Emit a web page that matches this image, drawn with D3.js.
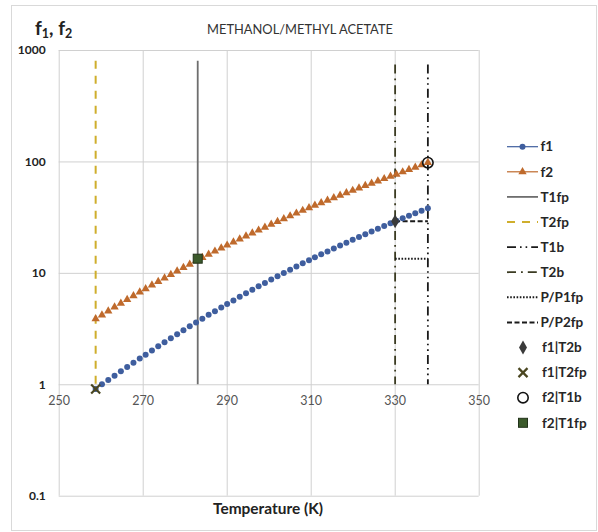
<!DOCTYPE html>
<html><head><meta charset="utf-8">
<script src="https://cdn.jsdelivr.net/npm/d3@7"></script>
<style>body{margin:0;background:#fff}svg{display:block;font-family:Lato,"Open Sans",sans-serif}</style>
</head><body><svg id="c" width="598" height="532"></svg>
<script>
// ---------------- data ----------------
const temperature = [258.8,260.3,261.8,263.3,264.8,266.3,267.8,269.3,270.7,272.2,273.7,275.2,276.7,278.2,279.7,281.2,282.7,284.2,285.7,287.2,288.7,290.1,291.6,293.1,294.6,296.1,297.6,299.1,300.6,302.1,303.6,305.1,306.6,308.1,309.6,311.0,312.5,314.0,315.5,317.0,318.5,320.0,321.5,323.0,324.5,326.0,327.5,329.0,330.4,331.9,333.4,334.9,336.4,337.9];
const f1 = [0.907,1.00,1.09,1.19,1.31,1.43,1.56,1.70,1.84,2.01,2.19,2.38,2.59,2.81,3.05,3.31,3.59,3.88,4.20,4.53,4.89,5.25,5.66,6.10,6.56,7.05,7.57,8.12,8.70,9.31,9.97,10.66,11.40,12.17,12.99,13.77,14.65,15.58,16.55,17.57,18.65,19.78,20.97,22.23,23.55,24.93,26.38,27.90,29.39,30.97,32.62,34.34,36.13,38.0];
const f2 = [3.86,4.18,4.54,4.92,5.32,5.75,6.22,6.71,7.20,7.76,8.36,8.99,9.67,10.38,11.14,11.95,12.81,13.72,14.65,15.64,16.68,17.71,18.86,20.08,21.36,22.71,24.14,25.63,27.20,28.85,30.58,32.40,34.30,36.30,38.40,40.34,42.52,44.80,47.17,49.64,52.22,54.90,57.69,60.59,63.61,66.74,70.00,73.38,76.64,80.47,84.47,88.63,92.96,97.5];
const xTicks = [250,270,290,310,330,350];
const yTicks = [0.1,1,10,100,1000];
// vertical reference lines
const vNames = ["T1fp","T2fp","T1b","T2b"];
const vTemps = [283.1,258.8,337.9,330.1];
const vFrom  = [1,0.907,1,1];
const vTo    = [800,800,740,740];
// horizontal pressure-ratio lines
const hNames = ["P/P1fp","P/P2fp"];
const hValues = [13.4,29];
const hFromT = [330.1,330.1];
const hToT   = [337.9,337.9];
// single points
const pNames = ["f1|T2b","f1|T2fp","f2|T1b","f2|T1fp"];
const pTemps = [330.1,258.8,337.9,283.1];
const pValues = [29,0.907,97.5,13.4];
const legendLabels = ["f1","f2","T1fp","T2fp","T1b","T2b","P/P1fp","P/P2fp","f1|T2b","f1|T2fp","f2|T1b","f2|T1fp"];
const titleText = "METHANOL/METHYL ACETATE";
const xTitle = "Temperature (K)";

// ---------------- styles ----------------
const lineStyle = {
  "T1fp":  {stroke:"#6e6e6e", width:1.8, dash:null},
  "T2fp":  {stroke:"#cfae2c", width:2,   dash:"8,7"},
  "T1b":   {stroke:"#1a1a1a", width:1.8, dash:"9,4,1.6,4,1.6,4"},
  "T2b":   {stroke:"#3b3b22", width:1.8, dash:"9,5,1.8,5"},
  "P/P1fp":{stroke:"#1a1a1a", width:2,   dash:"1.6,1.6"},
  "P/P2fp":{stroke:"#1a1a1a", width:2,   dash:"5,2.5"}
};
const c1 = "#3f5e9e", c2 = "#bf6a2c";

const svg = d3.select("#c");
svg.append("rect").attr("x",11.5).attr("y",5.5).attr("width",585).attr("height",525)
  .attr("fill","#fff").attr("stroke","#d9d9d9");

const x = d3.scaleLinear().domain([250,350]).range([58.7,478.7]);
const y = d3.scaleLog().domain([0.1,1000]).range([495.7,50]);

// grid
svg.append("g").attr("transform",`translate(0,${y(0.1)})`)
  .call(d3.axisBottom(x).tickValues(xTicks).tickSize(-(y(0.1)-y(1000))).tickFormat(""))
  .call(g=>g.select(".domain").remove())
  .call(g=>g.selectAll("line").attr("stroke","#d0d0d0").attr("stroke-width",1));
svg.append("g").attr("transform",`translate(${x(250)},0)`)
  .call(d3.axisLeft(y).tickValues(yTicks).tickSize(-(x(350)-x(250))).tickFormat(""))
  .call(g=>g.select(".domain").remove())
  .call(g=>g.selectAll("line").attr("stroke","#d0d0d0").attr("stroke-width",1));

// tick labels
svg.append("g").attr("transform",`translate(0,${y(1)})`)
  .call(d3.axisBottom(x).tickValues(xTicks).tickSize(0).tickPadding(12))
  .call(g=>g.select(".domain").remove())
  .call(g=>g.selectAll("text").attr("font-family","Lato").attr("font-size",12.5).attr("fill","#555"));
svg.append("g").attr("transform",`translate(${x(250)},0)`)
  .call(d3.axisLeft(y).tickValues(yTicks).tickSize(0).tickPadding(13).tickFormat(d=>String(d)))
  .call(g=>g.select(".domain").remove())
  .call(g=>g.selectAll("text").attr("font-family","Lato").attr("font-size",12).attr("font-weight","bold").attr("fill","#222"));

function fitWidth(sel,w){
  const len = sel.node().getComputedTextLength();
  const fs = parseFloat(sel.attr("font-size"));
  sel.attr("font-size",(fs*w/len).toFixed(2));
}
// titles
const tt = svg.append("text").attr("x",300).attr("y",33.5).attr("text-anchor","middle")
  .attr("font-size",13).attr("fill","#333").text(titleText);
fitWidth(tt,186);
const xt = svg.append("text").attr("x",268).attr("y",514).attr("text-anchor","middle")
  .attr("font-size",15).attr("font-weight","bold").attr("fill","#222").text(xTitle);
fitWidth(xt,110);
const yl = svg.append("text").attr("x",35).attr("y",35).attr("font-size",19).attr("font-weight","bold").attr("fill","#222");
yl.append("tspan").text("f");
yl.append("tspan").attr("font-size",12.5).attr("dy",3).text("1");
yl.append("tspan").attr("dy",-3).text(", f");
yl.append("tspan").attr("font-size",12.5).attr("dy",3).text("2");

// vertical lines
vNames.forEach((n,i)=>{
  const s = lineStyle[n];
  svg.append("path")
    .attr("d", d3.line()([[x(vTemps[i]),y(vTo[i])],[x(vTemps[i]),y(vFrom[i])]]))
    .attr("stroke",s.stroke).attr("stroke-width",s.width).attr("stroke-dasharray",s.dash).attr("fill","none");
});
// horizontal ratio lines
hNames.forEach((n,i)=>{
  const s = lineStyle[n];
  svg.append("path")
    .attr("d", d3.line()([[x(hFromT[i]),y(hValues[i])],[x(hToT[i]),y(hValues[i])]]))
    .attr("stroke",s.stroke).attr("stroke-width",s.width).attr("stroke-dasharray",s.dash).attr("fill","none");
});

// series (markers only in the plot)
const s1 = temperature.map((t,i)=>[t,f1[i]]);
const s2 = temperature.map((t,i)=>[t,f2[i]]);
const tri = d3.symbol().type(d3.symbolTriangle).size(30);
svg.append("g").selectAll("path").data(s2).join("path")
  .attr("transform",d=>`translate(${x(d[0])},${y(d[1])})`).attr("d",tri()).attr("fill",c2);
svg.append("g").selectAll("circle").data(s1).join("circle")
  .attr("cx",d=>x(d[0])).attr("cy",d=>y(d[1])).attr("r",3).attr("fill",c1);

// point markers
function drawMarker(g,name){
  if(name==="f1|T2b") g.append("path").attr("d",d3.symbol().type(d3.symbolDiamond).size(55)()).attr("fill","#3a3a3a");
  else if(name==="f1|T2fp") g.append("path").attr("d","M-4.5,-4.5L4.5,4.5M4.5,-4.5L-4.5,4.5").attr("stroke","#4a4620").attr("stroke-width",2.2).attr("fill","none");
  else if(name==="f2|T1b") g.append("circle").attr("r",5.2).attr("fill","none").attr("stroke","#111").attr("stroke-width",1.6);
  else if(name==="f2|T1fp") g.append("rect").attr("x",-4.5).attr("y",-4.5).attr("width",9).attr("height",9).attr("fill","#3b5a2b").attr("stroke","#22321a").attr("stroke-width",1);
}
pNames.forEach((n,i)=>{
  const g = svg.append("g").attr("transform",`translate(${x(pTemps[i])},${y(pValues[i])})`);
  drawMarker(g,n);
});

// legend
const lg = svg.append("g");
legendLabels.forEach((n,i)=>{
  const g = lg.append("g").attr("transform",`translate(0,${146.7+i*25.1})`);
  if(n==="f1"||n==="f2"){
    const col = n==="f1"?c1:c2;
    g.append("line").attr("x1",507).attr("x2",538).attr("stroke",col).attr("stroke-width",1.2);
    if(n==="f1") g.append("circle").attr("cx",522.5).attr("r",3).attr("fill",col);
    else g.append("path").attr("transform","translate(522.5,0)").attr("d",tri()).attr("fill",col);
  } else if(lineStyle[n]){
    const s = lineStyle[n];
    g.append("line").attr("x1",507).attr("x2",538).attr("stroke",s.stroke).attr("stroke-width",s.width).attr("stroke-dasharray",s.dash);
  } else {
    const m = g.append("g").attr("transform","translate(523,0)");
    drawMarker(m,n);
  }
  g.append("text").attr("x",n.includes("|")?542:540.5).attr("dy","0.35em")
    .attr("font-size",13.5).attr("font-weight","bold").attr("fill","#262626").text(n);
});
</script></body></html>
